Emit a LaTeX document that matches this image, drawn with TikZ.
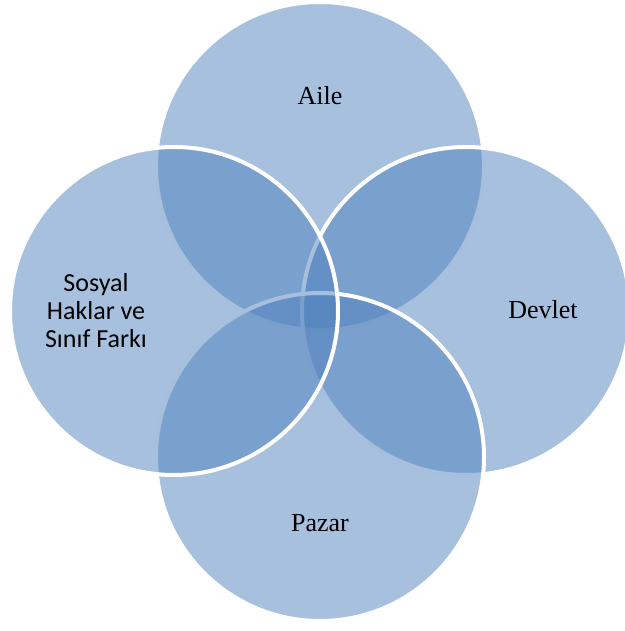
\documentclass[tikz,border=0pt]{standalone}
\usepackage{fontspec}
\setmainfont{Liberation Serif}
\newfontfamily\calibrifont{Carlito}
\definecolor{accent}{RGB}{79,129,189}
\begin{document}
\begin{tikzpicture}[x=1pt,y=-1pt,
  venn/.style={circle, minimum size=328pt, inner sep=0pt, outer sep=0pt,
    fill=accent, fill opacity=0.5, draw=white, draw opacity=1, line width=4pt},
  serlbl/.style={font=\fontsize{26}{28}\selectfont, text=black, inner sep=0pt, anchor=base},
  sanslbl/.style={font=\calibrifont\fontsize{26}{28}\selectfont, text=black, inner sep=0pt, align=center}]
\useasboundingbox (0,0) rectangle (624,631);
\node[venn] (aile) at (320,166) {};
\node[venn] (devlet) at (466,311) {};
\node[venn] (pazar) at (320,457) {};
\node[venn] (sosyal) at (174,311) {};
\node[serlbl] (ailet) at (320,104.5) {Aile};
\node[serlbl] (devlett) at (543,318) {Devlet};
\node[serlbl] (pazart) at (320,531) {Pazar};
\node[sanslbl] (sosyalt) at (96,311) {Sosyal\\Haklar ve\\Sınıf Farkı};
\end{tikzpicture}
\end{document}
